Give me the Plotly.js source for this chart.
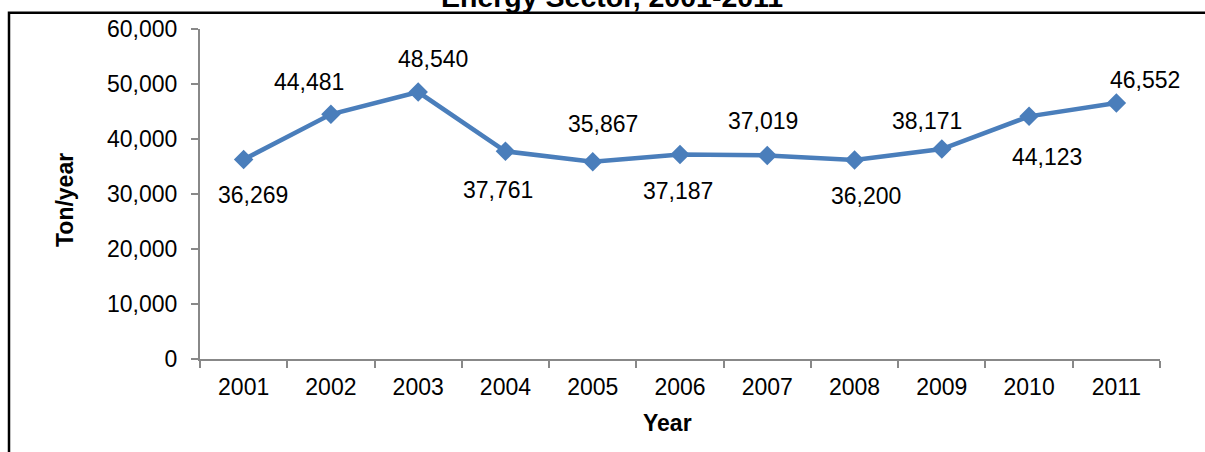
<!DOCTYPE html>
<html>
<head>
<meta charset="utf-8">
<script src="https://cdn.plot.ly/plotly-3.0.1.min.js"></script>
<style>
html,body{margin:0;padding:0;background:#fff;}
#chart{width:1205px;height:452px;}
</style>
</head>
<body>
<div id="chart"></div>
<script>
const years = ["2001","2002","2003","2004","2005","2006","2007","2008","2009","2010","2011"];
const emissions = [36269, 44481, 48540, 37761, 35867, 37187, 37019, 36200, 38171, 44123, 46552];
const yTickVals = [0, 10000, 20000, 30000, 40000, 50000, 60000];
const titleText = "Energy Sector, 2001-2011";
const xTitle = "Year";
const yTitle = "Ton/year";

// label pixel offsets (layout only)
const labelDx = [9, -22, 15, -7, 10, -2, -4, 11, -15, 18, 29];
const labelDy = [-35, 32, 33, -39, 38, -37, 34, -36, 28, -41, 23];

const FONT = "Liberation Sans, Arial, sans-serif";
const axisColor = "#888888";

const trace = {
  x: years,
  y: emissions,
  type: "scatter",
  mode: "lines+markers",
  line: {color: "#4A7EBB", width: 4.5},
  marker: {symbol: "diamond", size: 15, color: "#4A7EBB"},
  hoverinfo: "x+y",
  cliponaxis: false
};

const annotations = years.map((yr, i) => ({
  x: i, y: emissions[i], xref: "x", yref: "y",
  text: emissions[i].toLocaleString("en-US"),
  showarrow: false,
  xshift: labelDx[i], yshift: labelDy[i],
  xanchor: "center", yanchor: "middle",
  font: {family: FONT, size: 23, color: "#000"}
}));

annotations.push({
  x: (612 - 200) / 960, y: (359 + 3) / 330, xref: "paper", yref: "paper",
  text: "<b>" + titleText + "</b>", showarrow: false,
  xanchor: "center", yanchor: "middle",
  font: {family: FONT, size: 28.5, color: "#000"}
});
annotations.push({
  x: (667 - 200) / 960, y: (359 - 423) / 330, xref: "paper", yref: "paper",
  text: "<b>" + xTitle + "</b>", showarrow: false,
  xanchor: "center", yanchor: "middle",
  font: {family: FONT, size: 23, color: "#000"}
});
annotations.push({
  x: (65 - 200) / 960, y: (359 - 200) / 330, xref: "paper", yref: "paper",
  text: "<b>" + yTitle + "</b>", showarrow: false, textangle: -90,
  xanchor: "center", yanchor: "middle",
  font: {family: FONT, size: 23, color: "#000"}
});

const layout = {
  width: 1205, height: 452,
  margin: {l: 200, r: 45, t: 29, b: 93, pad: 0},
  paper_bgcolor: "#fff", plot_bgcolor: "#fff",
  showlegend: false,
  font: {family: FONT, size: 23, color: "#000"},
  xaxis: {
    type: "category",
    range: [-0.5, 10.5],
    showline: true, linecolor: axisColor, linewidth: 2,
    ticks: "outside", tickson: "boundaries", ticklen: 7, tickwidth: 2, tickcolor: axisColor,
    ticklabelstandoff: 6,
    showgrid: false, zeroline: false,
    tickfont: {family: FONT, size: 23, color: "#000"},
    fixedrange: true
  },
  yaxis: {
    range: [0, 60000],
    tickvals: yTickVals,
    ticktext: yTickVals.map(v => v.toLocaleString("en-US")),
    showline: true, linecolor: axisColor, linewidth: 2,
    ticks: "outside", ticklen: 7, tickwidth: 2, tickcolor: axisColor,
    ticklabelstandoff: 9,
    showgrid: false, zeroline: false,
    tickfont: {family: FONT, size: 23, color: "#000"},
    fixedrange: true
  },
  annotations: annotations,
  shapes: [{
    type: "rect", xref: "paper", yref: "paper",
    x0: (9 - 200) / 960, x1: 1.2,
    y0: -1, y1: (359 - 12.7) / 330,
    line: {color: "#000", width: 2.5},
    fillcolor: "rgba(0,0,0,0)",
    layer: "below"
  }]
};

Plotly.newPlot("chart", [trace], layout, {displayModeBar: false, staticPlot: true});
</script>
</body>
</html>
